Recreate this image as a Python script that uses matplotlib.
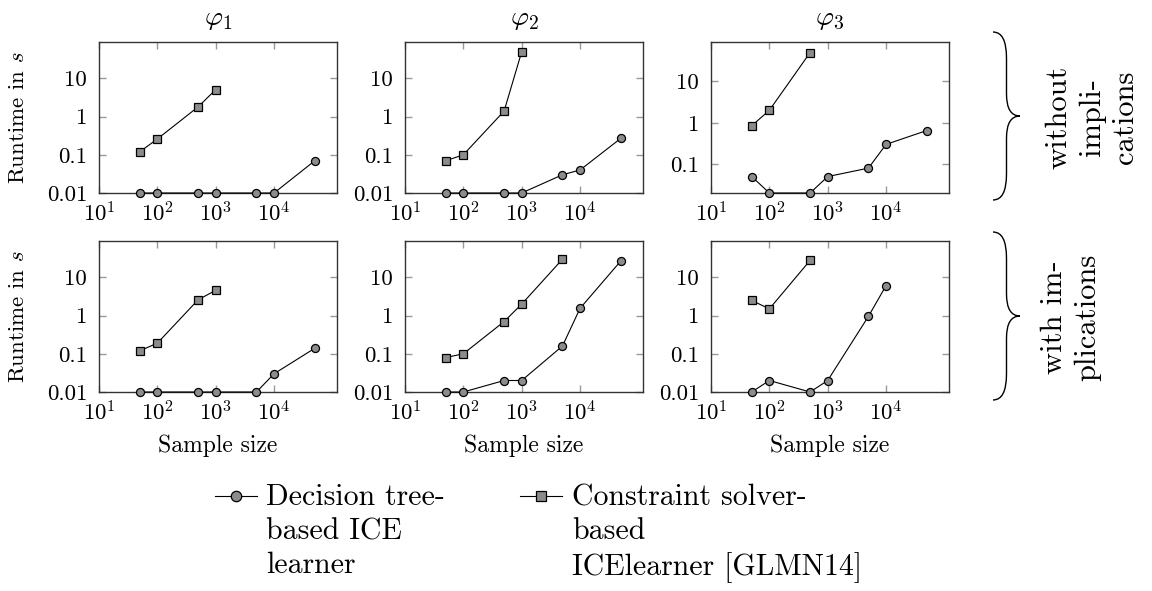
import numpy as np
import matplotlib
matplotlib.use("Agg")
from matplotlib import pyplot as plt
from matplotlib.path import Path
from matplotlib.patches import PathPatch
from matplotlib.lines import Line2D
from matplotlib.ticker import NullLocator

plt.rcParams['font.family'] = 'serif'
plt.rcParams['font.serif'] = ['cmr10']
plt.rcParams['mathtext.fontset'] = 'cm'
plt.rcParams['axes.formatter.use_mathtext'] = True
plt.rcParams['axes.unicode_minus'] = False

# sample sizes used in the experiments
sizes = [50, 100, 500, 1000, 5000, 10000, 50000]

# without implications: decision tree learner / constraint solver learner
dt_phi1 = [0.01, 0.01, 0.01, 0.01, 0.01, 0.01, 0.07]
cs_phi1 = [0.12, 0.26, 1.8, 5.1]
dt_phi2 = [0.01, 0.01, 0.01, 0.01, 0.03, 0.04, 0.27]
cs_phi2 = [0.07, 0.1, 1.4, 50]
dt_phi3 = [0.05, 0.02, 0.02, 0.05, 0.08, 0.3, 0.65]
cs_phi3 = [0.85, 2.0, 50]

# with implications
dt_phi1_imp = [0.01, 0.01, 0.01, 0.01, 0.01, 0.03, 0.14]
cs_phi1_imp = [0.12, 0.19, 2.6, 4.6]
dt_phi2_imp = [0.01, 0.01, 0.02, 0.02, 0.16, 1.55, 27]
cs_phi2_imp = [0.08, 0.1, 0.7, 2.0, 30]
dt_phi3_imp = [0.01, 0.02, 0.01, 0.02, 0.96, 6.1]
cs_phi3_imp = [2.5, 1.5, 28]

titles = [r'$\varphi_1$', r'$\varphi_2$', r'$\varphi_3$']
row_labels = ['without\nimpli-\ncations', 'with im-\nplications']
legend_labels = ['Decision tree-\nbased ICE\nlearner',
                 'Constraint solver-\nbased\nICElearner [GLMN14]']

dt_data = [[dt_phi1, dt_phi2, dt_phi3], [dt_phi1_imp, dt_phi2_imp, dt_phi3_imp]]
cs_data = [[cs_phi1, cs_phi2, cs_phi3], [cs_phi1_imp, cs_phi2_imp, cs_phi3_imp]]

W, H = 1152, 591
fig = plt.figure(figsize=(W / 100, H / 100), dpi=100)

col_left = [99, 405, 711]
row_top = [42, 241]
ax_w, ax_h = 238, 151

gray = '#8c8c8c'
line_kw = dict(color='black', lw=0.8, markeredgecolor='black',
               markerfacecolor=gray, markeredgewidth=0.9, zorder=5)


def fx(px):
    return px / W


def fy(py):
    return 1 - py / H


for r in range(2):
    for c in range(3):
        ax = fig.add_axes([fx(col_left[c]), fy(row_top[r] + ax_h), ax_w / W, ax_h / H])
        dt = dt_data[r][c]
        cs = cs_data[r][c]
        ax.plot(sizes[:len(dt)], dt, marker='o', markersize=5.8, clip_on=False, **line_kw)
        ax.plot(sizes[:len(cs)], cs, marker='s', markersize=5.8, clip_on=False, **line_kw)
        ax.set_xscale('log')
        ax.set_yscale('log')
        ax.set_xlim(10, 1.2e5)
        ymin = min(dt + cs)
        ax.set_ylim(ymin, 90)
        ax.set_xticks([10, 100, 1000, 10000])
        yt = [v for v in [0.01, 0.1, 1, 10] if v >= ymin]
        ax.set_yticks(yt)
        ax.set_yticklabels([('%g' % v) for v in yt])
        ax.xaxis.set_minor_locator(NullLocator())
        ax.yaxis.set_minor_locator(NullLocator())
        ax.tick_params(which='both', direction='in', top=True, right=True,
                       length=5, width=1, color='#999999', labelsize=16.5)
        ax.tick_params(axis='x', pad=6)
        ax.tick_params(axis='y', pad=8.5)
        for s in ax.spines.values():
            s.set_color('#333333')
            s.set_linewidth(1)
        if r == 0:
            fig.text(fx(col_left[c] + ax_w / 2), fy(19), titles[c],
                     ha='center', va='center', fontsize=20)
        else:
            fig.text(fx(col_left[c] + ax_w / 2), fy(446), 'Sample size',
                     ha='center', va='center', fontsize=17)
        if c == 0:
            fig.text(fx(18), fy(row_top[r] + ax_h / 2), r'Runtime in $s$',
                     rotation=90, ha='center', va='center', fontsize=16.5)


def brace(y0, y1, x0=993, x1=1020, r=26, rt=22):
    xm = (x0 + x1) / 2
    ym = (y0 + y1) / 2
    pts = [(x0, y0), (xm, y0), (xm, y0 + r),
           (xm, ym - rt), (xm, ym), (x1, ym),
           (xm, ym), (xm, ym + rt),
           (xm, y1 - r), (xm, y1), (x0, y1)]
    codes = [Path.MOVETO, Path.CURVE3, Path.CURVE3,
             Path.LINETO, Path.CURVE3, Path.CURVE3,
             Path.CURVE3, Path.CURVE3,
             Path.LINETO, Path.CURVE3, Path.CURVE3]
    verts = [(fx(a), fy(b)) for a, b in pts]
    fig.add_artist(PathPatch(Path(verts, codes), transform=fig.transFigure,
                             facecolor='none', edgecolor='black', lw=1.0))


brace(32, 200)
brace(232, 400)
fig.text(fx(1092), fy(117), row_labels[0], rotation=90, ha='center', va='center',
         multialignment='center', fontsize=22, linespacing=1.25)
fig.text(fx(1071), fy(317), row_labels[1], rotation=90, ha='center', va='center',
         multialignment='center', fontsize=22, linespacing=1.25)

# legend
for hx, tx, mk, lab in [(236, 266, 'o', legend_labels[0]), (541, 572, 's', legend_labels[1])]:
    fig.add_artist(Line2D([fx(hx - 21), fx(hx), fx(hx + 21)], [fy(496)] * 3,
                          transform=fig.transFigure, marker=mk, markevery=[1],
                          markersize=7.5, **line_kw))
    fig.text(fx(tx), fy(484), lab, ha='left', va='top', fontsize=21.5, linespacing=1.3)

fig.savefig('out.png', dpi=100)
plt.close()
